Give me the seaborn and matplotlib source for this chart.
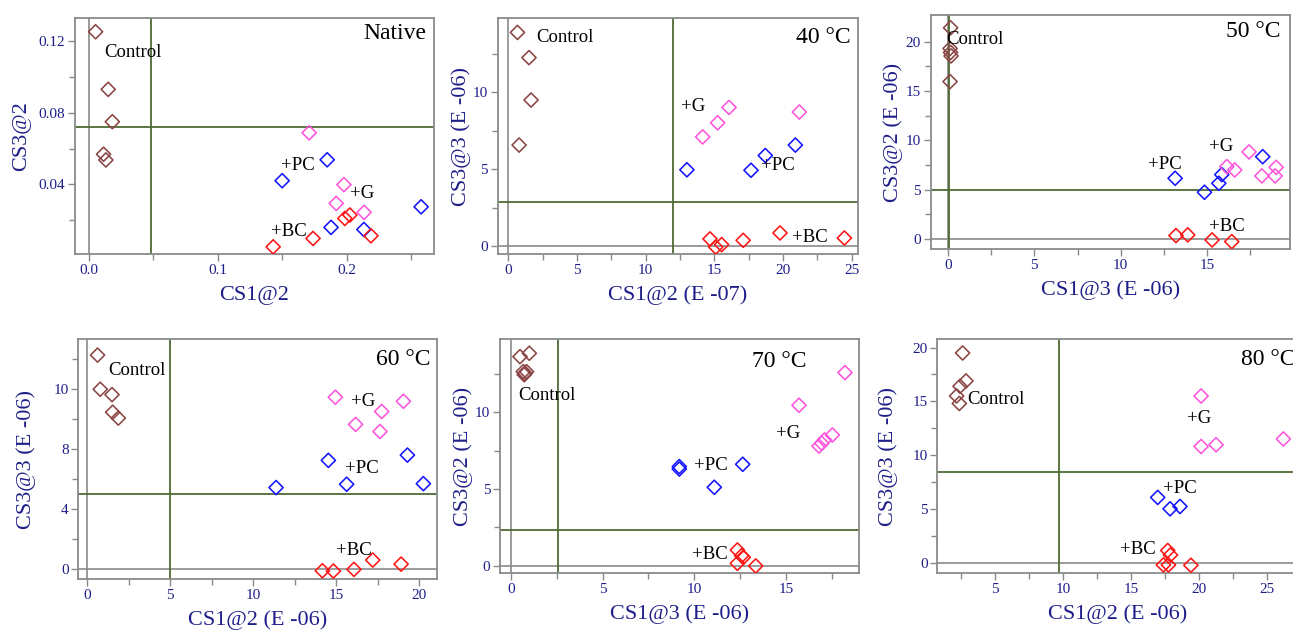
import matplotlib
matplotlib.use("Agg")
import matplotlib.pyplot as plt
import seaborn as sns
import pandas as pd
from matplotlib.ticker import FixedLocator

# ---------------- data ----------------
GROUPS = ["Control", "+PC", "+G", "+BC"]
COLORS = {"Control": "#8b4545", "+PC": "#1414ff", "+G": "#ff55dd", "+BC": "#ff1414"}

native_x = [0.005, 0.0148, 0.018, 0.0112, 0.013,
            0.150, 0.185, 0.188, 0.2135, 0.258,
            0.171, 0.198, 0.192, 0.2137,
            0.143, 0.174, 0.1987, 0.2026, 0.219]
native_y = [0.1253, 0.0931, 0.075, 0.0568, 0.0536,
            0.042, 0.0537, 0.0159, 0.0147, 0.0274,
            0.0688, 0.0398, 0.0293, 0.0243,
            0.005, 0.0097, 0.0209, 0.0228, 0.0112]
native_g = ["Control"] * 5 + ["+PC"] * 5 + ["+G"] * 4 + ["+BC"] * 5
native_thr = [0.048, 0.072]

t40_x = [0.66, 1.5, 1.65, 0.78,
         13.0, 17.67, 18.71, 20.9,
         14.15, 15.24, 16.07, 21.19,
         14.68, 15.1, 15.53, 17.1, 19.78, 24.47]
t40_y = [13.9, 12.26, 9.5, 6.57,
         4.96, 4.93, 5.89, 6.57,
         7.1, 8.02, 9.02, 8.72,
         0.46, -0.07, 0.09, 0.37, 0.85, 0.52]
t40_g = ["Control"] * 4 + ["+PC"] * 4 + ["+G"] * 4 + ["+BC"] * 6
t40_thr = [11.97, 2.87]

t50_x = [0.15, 0.12, 0.15, 0.18, 0.12,
         13.15, 14.85, 15.68, 15.85, 18.22,
         16.14, 16.6, 17.43, 18.17, 18.94, 19.0,
         13.2, 13.88, 15.29, 16.43]
t50_y = [21.4, 19.3, 18.9, 18.55, 15.95,
         6.15, 4.73, 5.64, 6.52, 8.34,
         7.33, 6.99, 8.82, 6.39, 6.39, 7.26,
         0.34, 0.41, -0.1, -0.27]
t50_g = ["Control"] * 5 + ["+PC"] * 5 + ["+G"] * 6 + ["+BC"] * 4
t50_thr = [0.05, 5.0]

t60_x = [0.62, 0.78, 1.49, 1.53, 1.87,
         11.37, 14.52, 15.62, 19.28, 20.24,
         14.94, 16.16, 17.73, 17.63, 19.04,
         14.16, 14.82, 16.06, 17.19, 18.9]
t60_y = [14.25, 11.98, 11.62, 10.45, 10.06,
         5.44, 7.25, 5.66, 7.6, 5.7,
         11.45, 9.64, 10.5, 9.17, 11.18,
         -0.09, -0.11, 0.0, 0.62, 0.35]
t60_g = ["Control"] * 5 + ["+PC"] * 5 + ["+G"] * 5 + ["+BC"] * 5
t60_thr = [5.0, 5.02]
t60_ytick_labels = ["0", "4", "8", "10"]

t70_x = [0.49, 1.0, 0.67, 0.76, 0.85, 0.72,
         9.18, 9.18, 11.09, 12.64,
         15.71, 18.22, 16.8, 16.95, 17.1, 17.53,
         12.35, 12.35, 12.58, 12.67, 13.35]
t70_y = [13.63, 13.85, 12.65, 12.54, 12.65, 12.45,
         6.46, 6.3, 5.11, 6.61,
         10.46, 12.59, 7.8, 7.98, 8.2, 8.52,
         1.02, 0.15, 0.65, 0.54, -0.02]
t70_g = ["Control"] * 6 + ["+PC"] * 4 + ["+G"] * 6 + ["+BC"] * 5
t70_thr = [2.55, 2.33]

t80_x = [2.62, 2.87, 2.43, 2.18, 2.38,
         16.96, 17.87, 18.6,
         20.15, 20.15, 21.25, 26.2,
         17.7, 17.9, 17.38, 17.75, 19.4]
t80_y = [19.5, 16.9, 16.4, 15.5, 14.8,
         6.06, 5.0, 5.22,
         15.5, 10.8, 10.96, 11.5,
         1.12, 0.71, -0.22, -0.22, -0.25]
t80_g = ["Control"] * 5 + ["+PC"] * 3 + ["+G"] * 4 + ["+BC"] * 5
t80_thr = [9.7, 8.45]

# ---------------- style ----------------
sns.set_style("white")
SERIF = ["Liberation Serif", "DejaVu Serif"]
plt.rcParams["font.family"] = SERIF
NAVY = "#1e1e8a"
GRAY = "#8a8a8a"
GREEN = "#4d6b33"

W, H = 1293, 630
fig = plt.figure(figsize=(W / 100, H / 100), dpi=100)


def rect(x0, y0, x1, y1):
    return [x0 / W, 1 - y1 / H, (x1 - x0) / W, (y1 - y0) / H]


panels = [
    dict(x=native_x, y=native_y, g=native_g, thr=native_thr,
         rect=rect(75, 18, 434, 254), xlim=(-0.011, 0.268), ylim=(0.001, 0.133),
         xmaj=[0.0, 0.1, 0.2], xmin=[0.05, 0.15, 0.25],
         ymaj=[0.04, 0.08, 0.12], ymin=[0.02, 0.06, 0.10],
         xfmt=["0.0", "0.1", "0.2"], yfmt=["0.04", "0.08", "0.12"],
         xlabel="CS1@2", ylabel="CS3@2", vzero=True, hzero=False,
         title="Native", title_pos=(0.98, 0.936, "right"),
         labels={"Control": (0.034, 0.1137), "+PC": (0.162, 0.0504),
                 "+G": (0.2124, 0.035), "+BC": (0.155, 0.0134)},
         ylc=-0.1226, xlc=-0.134),
    dict(x=t40_x, y=t40_y, g=t40_g, thr=t40_thr,
         rect=rect(497.7, 18.3, 857.7, 254), xlim=(-0.78, 25.44), ylim=(-0.52, 14.82),
         xmaj=[0, 5, 10, 15, 20, 25], xmin=[2.5, 7.5, 12.5, 17.5, 22.5],
         ymaj=[0, 5, 10], ymin=[2.5, 7.5, 12.5],
         xlabel="CS1@2 (E -07)", ylabel="CS3@3 (E -06)", vzero=True, hzero=True,
         title="40 °C", title_pos=(0.98, 0.92, "right"),
         labels={"Control": (4.13, 13.59), "+PC": (19.62, 5.23),
                 "+G": (13.48, 9.11), "+BC": (21.97, 0.57)},
         ylc=-0.074, xlc=-0.1345),
    dict(x=t50_x, y=t50_y, g=t50_g, thr=t50_thr,
         rect=rect(930.7, 15, 1290, 249.3), xlim=(-1.0, 19.8), ylim=(-1.05, 22.7),
         xmaj=[0, 5, 10, 15], xmin=[2.5, 7.5, 12.5, 17.5],
         ymaj=[0, 5, 10, 15, 20], ymin=[2.5, 7.5, 12.5, 17.5],
         xlabel="CS1@3 (E -06)", ylabel="CS3@2 (E -06)", vzero=True, hzero=True,
         title="50 °C", title_pos=(0.974, 0.929, "right"),
         labels={"Control": (1.56, 20.26), "+PC": (12.57, 7.57),
                 "+G": (15.79, 9.35), "+BC": (16.17, 1.25)},
         ylc=-0.078, xlc=-0.134),
    dict(x=t60_x, y=t60_y, g=t60_g, thr=t60_thr,
         rect=rect(78.3, 339.3, 437.3, 579), xlim=(-0.54, 21.08), ylim=(-0.64, 15.3),
         xmaj=[0, 5, 10, 15, 20], xmin=[2.5, 7.5, 12.5, 17.5],
         ymaj=[0, 4, 8, 12], ymin=[2, 6, 10, 14], yfmt=t60_ytick_labels,
         xlabel="CS1@2 (E -06)", ylabel="CS3@3 (E -06)", vzero=True, hzero=True,
         title="60 °C", title_pos=(0.982, 0.914, "right"),
         labels={"Control": (3.01, 13.2), "+PC": (16.53, 6.7),
                 "+G": (16.59, 11.16), "+BC": (16.08, 1.28)},
         ylc=-0.118, xlc=-0.132),
    dict(x=t70_x, y=t70_y, g=t70_g, thr=t70_thr,
         rect=rect(500, 339, 859.3, 573.3), xlim=(-0.6, 19.0), ylim=(-0.5, 14.78),
         xmaj=[0, 5, 10, 15], xmin=[2.5, 7.5, 12.5, 17.5],
         ymaj=[0, 5, 10], ymin=[2.5, 7.5, 12.5],
         xlabel="CS1@3 (E -06)", ylabel="CS3@2 (E -06)", vzero=True, hzero=True,
         title="70 °C", title_pos=(0.777, 0.903, "center"),
         labels={"Control": (1.98, 11.07), "+PC": (10.91, 6.52),
                 "+G": (15.1, 8.64), "+BC": (10.86, 0.7)},
         ylc=-0.076, xlc=-0.131),
    dict(x=t80_x, y=t80_y, g=t80_g, thr=t80_thr,
         rect=rect(937.3, 339, 1297, 573.3), xlim=(0.76, 27.2), ylim=(-1.0, 20.8),
         xmaj=[5, 10, 15, 20, 25], xmin=[2.5, 7.5, 12.5, 17.5, 22.5],
         ymaj=[0, 5, 10, 15, 20], ymin=[2.5, 7.5, 12.5, 17.5],
         xlabel="CS1@2 (E -06)", ylabel="CS3@3 (E -06)", vzero=False, hzero=True,
         title="80 °C", title_pos=(0.844, 0.913, "left"),
         labels={"Control": (5.07, 15.16), "+PC": (18.6, 6.93),
                 "+G": (20.02, 13.39), "+BC": (15.54, 1.18)},
         ylc=-0.110, xlc=-0.131),
]

for p in panels:
    ax = fig.add_axes(p["rect"])
    df = pd.DataFrame({"x": p["x"], "y": p["y"], "group": p["g"]})
    # reference / threshold lines
    if p["vzero"]:
        ax.axvline(0, color=GRAY, lw=1.2, zorder=1)
    if p["hzero"]:
        ax.axhline(0, color=GRAY, lw=1.2, zorder=1)
    ax.axvline(p["thr"][0], color=GREEN, lw=1.3, zorder=1)
    ax.axhline(p["thr"][1], color=GREEN, lw=1.3, zorder=1)

    sns.scatterplot(data=df, x="x", y="y", hue="group", hue_order=GROUPS,
                    palette=COLORS, marker="D", s=52, linewidth=1.15,
                    legend=False, ax=ax, zorder=3)
    for coll in ax.collections:
        fc = coll.get_facecolors()
        coll.set_edgecolors(fc)
        coll.set_facecolors("none")

    ax.set_xlim(*p["xlim"])
    ax.set_ylim(*p["ylim"])
    ax.xaxis.set_major_locator(FixedLocator(p["xmaj"]))
    ax.xaxis.set_minor_locator(FixedLocator(p["xmin"]))
    ax.yaxis.set_major_locator(FixedLocator(p["ymaj"]))
    ax.yaxis.set_minor_locator(FixedLocator(p["ymin"]))
    if "xfmt" in p:
        ax.set_xticklabels(p["xfmt"])
    else:
        ax.set_xticklabels([str(v) for v in p["xmaj"]])
    if "yfmt" in p:
        ax.set_yticklabels(p["yfmt"])
    else:
        ax.set_yticklabels([str(v) for v in p["ymaj"]])

    ax.tick_params(which="both", direction="out", color=GRAY, width=1.0,
                   bottom=True, left=True, top=False, right=False)
    ax.tick_params(which="major", length=5, labelsize=11, labelcolor=NAVY, pad=2)
    ax.tick_params(which="minor", length=4)
    for s in ax.spines.values():
        s.set_color(GRAY)
        s.set_linewidth(1.3)

    ax.set_xlabel(p["xlabel"], fontsize=16, color=NAVY)
    ax.set_ylabel(p["ylabel"], fontsize=16, color=NAVY)
    ax.yaxis.set_label_coords(p["ylc"], 0.5)
    ax.xaxis.set_label_coords(0.5, p["xlc"])

    tx, ty, tha = p["title_pos"]
    ax.text(tx, ty, p["title"], transform=ax.transAxes, ha=tha, va="center",
            fontsize=17, color="black")
    for name, (lx, ly) in p["labels"].items():
        ax.text(lx, ly, name, ha="center", va="center", fontsize=13.5,
                color="black", zorder=4)

fig.savefig("out.png", dpi=100)
